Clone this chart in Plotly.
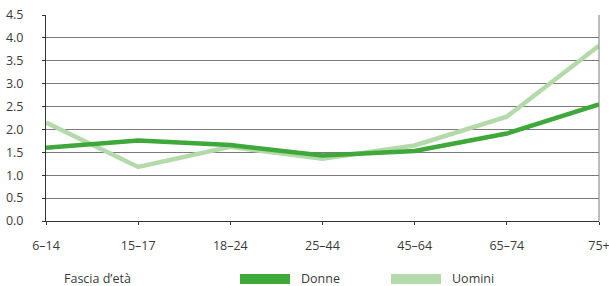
import plotly.graph_objects as go

categories = ["6–14", "15–17", "18–24", "25–44", "45–64", "65–74", "75+"]
donne = [1.6, 1.76, 1.66, 1.43, 1.53, 1.91, 2.55]
uomini = [2.15, 1.18, 1.62, 1.36, 1.65, 2.28, 3.83]
y_ticks = [0.0, 0.5, 1.0, 1.5, 2.0, 2.5, 3.0, 3.5, 4.0, 4.5]
legend_title = "Fascia d’età"

C_DONNE = "#3ea83b"
C_UOMINI = "#b3daa8"
FONT = "Open Sans"
TXT = "#3a3a3a"

x_idx = list(range(len(categories)))

fig = go.Figure()
fig.add_trace(go.Scatter(x=x_idx, y=uomini, mode="lines", name="Uomini",
                         line=dict(color=C_UOMINI, width=4.5), showlegend=False))
fig.add_trace(go.Scatter(x=x_idx, y=donne, mode="lines", name="Donne",
                         line=dict(color=C_DONNE, width=4.5), showlegend=False))

W, H = 609, 286
L, R, T, B = 46, 10, 15, 65
pw, ph = W - L - R, H - T - B

def px(x):
    return (x - L) / pw

def py(y):
    return (H - B - y) / ph

fig.update_layout(
    width=W, height=H,
    margin=dict(l=L, r=R, t=T, b=B, autoexpand=False),
    paper_bgcolor="white", plot_bgcolor="white",
    font=dict(family=FONT, size=12.5, color=TXT),
    xaxis=dict(range=[0, len(categories) - 1], tickvals=x_idx, ticktext=categories,
               showgrid=False, zeroline=False, showline=True, linecolor="#333333",
               linewidth=1, ticks="outside", ticklen=3, tickcolor="#333333",
               ticklabelstandoff=10, automargin=False, ticklabeloverflow="allow"),
    yaxis=dict(range=[0, 4.5], tickvals=y_ticks, ticktext=[f"{v:.1f}" for v in y_ticks],
               showgrid=True, gridcolor="#7a7a7a", gridwidth=1.2, zeroline=False,
               showline=True, linecolor="#333333", linewidth=1, automargin=False,
               ticks="outside", ticklen=3, tickcolor="#333333", ticklabelstandoff=16,
               ticklabeloverflow="allow"),
)

# right border line
fig.add_shape(type="line", xref="paper", yref="paper", x0=1, x1=1, y0=0, y1=1,
              line=dict(color="#7a7a7a", width=1))

# legend drawn below the plot
fig.add_annotation(text=legend_title, xref="paper", yref="paper", x=px(62), y=py(278),
                   xanchor="left", yanchor="middle", showarrow=False,
                   font=dict(size=12.5, color=TXT))
for name, col, x0 in [("Donne", C_DONNE, 240), ("Uomini", C_UOMINI, 391)]:
    fig.add_shape(type="rect", xref="paper", yref="paper",
                  x0=px(x0), x1=px(x0 + 50), y0=py(284), y1=py(274),
                  fillcolor=col, line=dict(width=0))
    fig.add_annotation(text=name, xref="paper", yref="paper", x=px(x0 + 59), y=py(278),
                       xanchor="left", yanchor="middle", showarrow=False,
                       font=dict(size=12.5, color=TXT))

fig.write_html("out.html", config={"displayModeBar": False},
               post_script="document.body.style.margin='0';")
